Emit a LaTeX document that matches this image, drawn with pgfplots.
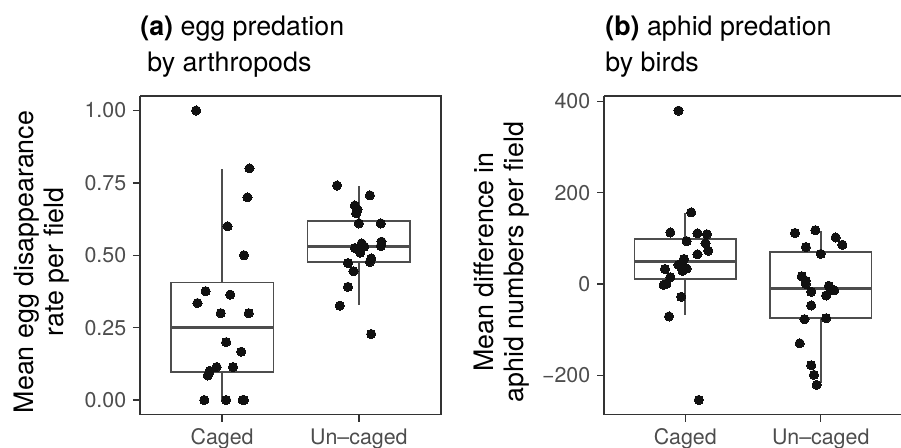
\documentclass[border=0pt]{standalone}
\usepackage{fontspec}
\setmainfont{TeX Gyre Heros}
\usepackage{pgfplots}
\pgfplotsset{compat=1.18}
\definecolor{frame}{HTML}{333333}
\definecolor{boxc}{HTML}{4D4D4D}
\definecolor{tickc}{HTML}{4D4D4D}
\definecolor{ptc}{HTML}{111111}
\pgfplotsset{
  ggbox/.style={
    scale only axis,
    anchor=south west,
    height=159.25pt,
    xmin=0.4, xmax=2.6,
    xtick={1,2}, xticklabels={Caged,Un–caged},
    axis line style={draw=frame, line width=0.7pt},
    tick align=outside,
    major tick length=3.5pt,
    every tick/.style={draw=frame, line width=0.7pt},
    tick label style={font=\fontsize{10.7pt}{12pt}\selectfont, text=tickc},
    /pgf/number format/assume math mode=true,
    xticklabel style={inner sep=0pt, yshift=-3.5pt},
    yticklabel style={inner sep=0pt, xshift=-3.2pt},
    axis x line*=bottom,
    axis y line*=left,
    clip=false,
  },
  boxl/.style={draw=boxc, line width=0.8pt, fill=white},
  medl/.style={draw=boxc, line width=1.6pt},
  pts/.style={only marks, mark=*, mark size=2.3pt, mark options={fill=ptc, draw=ptc, line width=0pt}},
}
\begin{document}
\begin{tikzpicture}
% ---------------- panel (a)
\begin{axis}[ggbox, at={(70pt,16.25pt)}, width=150.5pt,
  ymin=-0.05, ymax=1.05,
  ytick={0,0.25,0.5,0.75,1}, yticklabels={0.00,0.25,0.50,0.75,1.00}]
% Caged box
\addplot[boxl] coordinates {(1,0.406) (1,0.797)};
\addplot[boxl] coordinates {(1,0.0963) (1,0)};
\addplot[boxl] coordinates {(0.625,0.0963) (1.375,0.0963) (1.375,0.406) (0.625,0.406)} --cycle;
\addplot[medl] coordinates {(0.625,0.251) (1.375,0.251)};
% Un-caged box
\addplot[boxl] coordinates {(2,0.619) (2,0.738)};
\addplot[boxl] coordinates {(2,0.477) (2,0.327)};
\addplot[boxl] coordinates {(1.625,0.477) (2.375,0.477) (2.375,0.619) (1.625,0.619)} --cycle;
\addplot[medl] coordinates {(1.625,0.531) (2.375,0.531)};
\addplot[pts] coordinates {
(0.81,1.00) (1.20,0.80) (1.185,0.70) (1.04,0.60) (1.16,0.50)
(0.88,0.376) (1.06,0.364) (0.82,0.335) (0.99,0.30) (1.195,0.30)
(1.03,0.20) (1.14,0.167) (0.91,0.101) (0.96,0.114) (1.08,0.114)
(0.895,0.085) (0.87,0) (1.03,0) (1.15,0) (1.16,0)
};
\addplot[pts] coordinates {
(1.84,0.741) (2.08,0.707) (1.97,0.672) (1.99,0.658) (1.98,0.645)
(2.00,0.610) (2.16,0.610) (2.02,0.541) (1.97,0.525) (2.04,0.530)
(2.01,0.509) (2.165,0.547) (2.16,0.532) (2.09,0.489) (2.08,0.477)
(1.92,0.473) (1.96,0.445) (1.92,0.391) (1.86,0.326) (2.09,0.228)
};
\draw[frame, line width=0.7pt] (rel axis cs:0,1) -- (rel axis cs:1,1) -- (rel axis cs:1,0);
\end{axis}
% ---------------- panel (b)
\begin{axis}[ggbox, at={(302pt,16.25pt)}, width=149pt,
  ymin=-286, ymax=412,
  ytick={-200,0,200,400}, yticklabels={−200,0,200,400}]
\addplot[boxl] coordinates {(1,98) (1,155)};
\addplot[boxl] coordinates {(1,11) (1,-69)};
\addplot[boxl] coordinates {(0.625,11) (1.375,11) (1.375,98) (0.625,98)} --cycle;
\addplot[medl] coordinates {(0.625,49) (1.375,49)};
\addplot[boxl] coordinates {(2,70) (2,117)};
\addplot[boxl] coordinates {(2,-75) (2,-217)};
\addplot[boxl] coordinates {(1.625,-75) (2.375,-75) (2.375,70) (1.625,70)} --cycle;
\addplot[medl] coordinates {(1.625,-9) (2.375,-9)};
\addplot[pts] coordinates {
(0.95,380) (1.044,157) (0.89,113) (1.09,111) (1.16,109)
(1.01,94) (1.15,89) (1.17,73) (1.09,65) (0.99,55)
(0.95,42) (0.97,44) (1.01,34) (0.98,29) (0.85,33)
(0.89,15) (0.84,-2) (0.86,0) (0.97,-28) (0.88,-71) (1.10,-254)
};
\addplot[pts] coordinates {
(1.81,112) (1.96,118) (2.11,102) (2.16,86) (1.89,81)
(2.00,66) (1.86,17) (1.89,7) (1.89,0) (2.06,-4)
(2.10,-14) (1.93,-17) (2.04,-25) (1.93,-47) (1.88,-77)
(2.04,-75) (1.845,-130) (1.93,-178) (1.95,-199) (1.97,-221)
};
\draw[frame, line width=0.7pt] (rel axis cs:0,1) -- (rel axis cs:1,1) -- (rel axis cs:1,0);
\end{axis}
% ---------------- titles and axis labels
\begin{scope}[every node/.style={inner sep=0pt, font=\fontsize{13.4pt}{16pt}\selectfont}]
\node[anchor=base west] at (70pt,206pt) {\textbf{(a)} egg predation};
\node[anchor=base west] at (73.5pt,187.65pt) {by arthropods};
\node[anchor=base west] at (302.5pt,206pt) {\textbf{(b)} aphid predation};
\node[anchor=base west] at (302.5pt,187.65pt) {by birds};
\node[rotate=90, anchor=base] at (16.65pt,92.5pt) {Mean egg disappearance};
\node[rotate=90, anchor=base] at (31.5pt,92.5pt) {rate per field};
\node[rotate=90, anchor=base] at (246.5pt,92.5pt) {Mean difference in};
\node[rotate=90, anchor=base] at (261.65pt,92.5pt) {aphid numbers per field};
\end{scope}
\pgfresetboundingbox
\useasboundingbox (0,0) rectangle (450.5pt,223.5pt);
\end{tikzpicture}
\end{document}
